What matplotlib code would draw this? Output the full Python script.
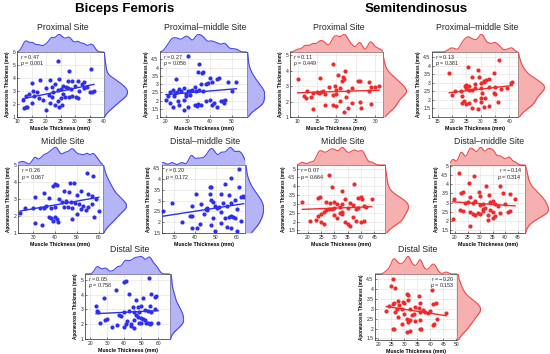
import numpy as np
import matplotlib
matplotlib.use('Agg')
import matplotlib.pyplot as plt

plt.rcParams['font.family'] = ['Liberation Sans', 'DejaVu Sans']
plt.rcParams['mathtext.fontset'] = 'custom'
plt.rcParams['mathtext.it'] = 'Liberation Sans:italic'
plt.rcParams['mathtext.rm'] = 'Liberation Sans'

# ----------------------------------------------------------------------
# Data: (muscle thickness mm, aponeurosis thickness mm)
# ----------------------------------------------------------------------
bf_prox = [(24, 5.3), (35.5, 4.7), (28, 4.55), (15, 3.65), (18, 3.85), (21.5, 3.85),
           (24.5, 3.95), (23, 3.55), (27.5, 3.75), (29, 3.8), (31, 3.75), (33, 3.7),
           (32.5, 3.55), (34, 3.3), (26, 3.35), (22, 3.3), (20, 3.2), (17, 2.9),
           (15.5, 3.0), (14, 2.75), (13, 2.65), (12, 2.3), (16, 2.6), (19, 2.3),
           (21, 2.7), (22.5, 2.95), (24, 3.05), (25, 3.15), (27, 3.3), (28.5, 3.15),
           (30, 3.35), (31.5, 3.0), (33, 3.2), (36, 2.95), (36.5, 3.0), (35, 2.9),
           (29, 2.6), (28, 2.55), (30.5, 2.55), (31, 2.45), (26.5, 2.55), (25, 2.45),
           (24, 2.25), (23, 1.95), (21.5, 2.1), (24.5, 1.75), (25.5, 1.95), (20, 1.55),
           (13, 1.75), (13.5, 1.8), (12.5, 1.7), (15, 2.1), (17.5, 2.5), (22, 2.55),
           (26, 2.75), (27.5, 3.25)]
bf_proxmid = [(30, 4.68), (35, 4.2), (34.5, 3.75), (36.5, 3.7), (37, 3.75), (24.5, 3.3),
              (40, 3.35), (43, 3.3), (44, 3.35), (41, 3.15), (36, 3.0), (38, 3.0),
              (39, 3.05), (48, 3.1), (52, 3.15), (50, 2.55), (33, 2.8), (28, 2.75),
              (26, 2.7), (23, 2.65), (22, 2.5), (21, 2.3), (24, 2.45), (25, 2.5),
              (27, 2.55), (29, 2.4), (30, 2.6), (31, 2.6), (32, 2.65), (33.5, 2.6),
              (35, 2.65), (37, 2.55), (20, 2.05), (23.5, 2.3), (25.5, 2.0), (28, 2.05),
              (22, 1.85), (23, 1.6), (26, 1.75), (30, 1.6), (33, 1.75), (34.5, 1.8),
              (36, 1.7), (38, 1.95), (40, 2.05), (41, 1.7), (43, 1.6), (45, 1.95),
              (46, 2.0), (47, 2.05), (46.5, 1.85), (28, 1.4), (34, 1.65), (42, 1.85),
              (29, 2.25), (31, 2.35)]
bf_mid = [(54.7, 4.55), (57.5, 4.35), (40, 3.9), (41, 3.8), (47, 3.95), (48.5, 3.95),
          (39, 3.75), (44, 3.5), (46.5, 3.4), (52, 3.5), (55, 3.3), (50, 3.25),
          (57, 3.15), (59, 3.0), (31, 3.1), (35, 3.35), (37, 3.05), (42, 3.0),
          (45, 2.9), (47.5, 2.85), (49, 2.75), (51, 2.7), (53, 2.6), (55, 2.55),
          (57, 2.7), (60, 2.3), (58, 1.95), (48, 2.5), (46, 2.55), (44, 2.55),
          (40, 2.55), (38, 2.5), (36, 2.6), (33, 2.5), (35, 2.45), (30, 2.5),
          (26, 2.5), (24, 2.2), (37, 1.95), (38, 1.9), (40, 1.95), (41, 1.85),
          (39, 1.7), (41.5, 1.65), (34, 1.5), (31, 1.6), (48, 1.8), (52, 2.4),
          (54, 2.35), (50, 2.1), (43, 2.8), (45, 2.85)]
bf_distmid = [(61.1, 4.45), (57.3, 4.05), (46.9, 3.65), (47.8, 3.65), (54.5, 3.75),
              (61.1, 3.65), (40.2, 3.3), (46.9, 3.3), (52.6, 3.3), (56.4, 3.25),
              (62.1, 3.15), (63.0, 3.2), (63.4, 3.15), (28.8, 2.9), (38.3, 2.75),
              (47.8, 3.05), (48.8, 2.95), (53.5, 2.9), (57.3, 2.9), (59.2, 3.05),
              (43.0, 2.85), (45.0, 2.6), (45.9, 2.65), (50.7, 2.65), (51.6, 2.7),
              (55.4, 2.75), (60.2, 2.6), (24.5, 2.5), (37.3, 2.3), (38.3, 2.3),
              (44.0, 2.4), (48.8, 2.2), (54.5, 2.2), (56.4, 2.25), (57.3, 2.3),
              (58.3, 2.25), (59.2, 2.2), (62.1, 2.05), (33.5, 2.0), (38.3, 1.75),
              (41.1, 1.75), (52.6, 1.95), (55.4, 1.8), (57.3, 1.75), (60.2, 1.6),
              (49.7, 1.6), (47.8, 1.85), (42.1, 1.9), (45.9, 2.55), (49.7, 2.75),
              (52.6, 2.45)]
bf_dist = [(54.5, 5.1), (40, 4.85), (41, 4.95), (35.5, 4.3), (43, 4.05), (56, 4.05),
           (59, 3.9), (58, 3.85), (28, 3.75), (47, 3.65), (51, 3.75), (45, 3.2),
           (48, 3.2), (50, 3.25), (55, 3.25), (23.5, 3.25), (24, 2.9), (24.5, 2.85),
           (37, 2.6), (40, 2.85), (43, 2.9), (46, 2.85), (49, 2.8), (52, 2.95),
           (54, 2.9), (56, 2.85), (58, 3.0), (47, 2.6), (48, 2.5), (50, 2.45),
           (51, 2.35), (52, 2.3), (53, 2.1), (54, 2.05), (55, 2.0), (56, 2.05),
           (50, 2.05), (49, 2.1), (60, 2.1), (44, 2.0), (46, 2.3), (41, 2.0),
           (30, 2.35), (29, 2.3), (26, 2.05), (33, 1.8), (36, 1.95), (40, 1.8),
           (44, 1.85), (46, 1.75), (42, 2.25), (38, 2.55)]

st_prox = [(10, 3.45), (19, 4.4), (22.3, 4.0), (15.7, 3.5), (20.5, 3.7), (21.8, 3.6),
           (22, 3.45), (21.5, 3.3), (25.5, 3.35), (26, 3.3), (28.5, 3.25), (18, 2.95),
           (19.5, 3.0), (21, 2.9), (24, 2.85), (29, 2.95), (30, 2.95), (31, 3.0),
           (28.5, 2.65), (15, 2.6), (15.5, 2.55), (16, 2.6), (16.5, 2.7), (14, 2.55),
           (12.5, 2.65), (13.5, 2.3), (11.5, 2.35), (12, 2.2), (17, 2.5), (19, 2.45),
           (20, 2.5), (23, 2.7), (22.5, 2.3), (20, 2.75), (26, 1.95), (26.3, 1.6),
           (29, 1.85), (14, 1.5), (17, 1.75), (19, 1.75), (20, 1.7), (22, 1.35),
           (23, 1.55), (24, 1.9), (21, 2.05)]
st_proxmid = [(19, 3.6), (36.3, 4.32), (25.7, 3.95), (29, 3.75), (34.5, 3.55), (27, 3.35),
              (29.5, 3.35), (31, 3.1), (32, 3.15), (33, 3.2), (31, 3.05), (30, 3.0),
              (28, 2.95), (25, 2.9), (26, 2.8), (28, 2.7), (30, 2.7), (33, 2.75),
              (35, 2.75), (39, 2.7), (40.5, 3.0), (41, 3.05), (37, 2.65), (34.5, 2.4),
              (35, 2.35), (30.5, 2.4), (27, 2.55), (26, 2.6), (23, 2.5), (21, 2.5),
              (20, 2.3), (24.5, 2.8), (25, 2.7), (23.5, 2.25), (24, 1.95), (25, 1.75),
              (28, 2.0), (30, 2.1), (31.5, 2.1), (26, 1.8), (27, 1.5), (29, 1.45),
              (31, 1.6), (33, 1.65), (36, 1.85), (23.5, 1.8), (30, 1.9)]
st_mid = [(28, 4.65), (29, 3.95), (37.5, 4.15), (24.5, 3.4), (24, 3.35), (33, 3.7),
          (34, 3.3), (39, 3.35), (40, 3.4), (40.5, 3.25), (44, 3.3), (18, 3.1),
          (27, 3.1), (28.5, 3.05), (30, 3.1), (31, 3.0), (33, 3.0), (36, 3.05),
          (37, 2.95), (41, 2.9), (42, 2.85), (39, 2.75), (38, 2.7), (35, 2.75),
          (32, 2.8), (30, 2.75), (29, 2.7), (28, 2.7), (27, 2.65), (26, 2.55),
          (25, 2.45), (24, 2.3), (23, 2.1), (25, 2.0), (21, 2.05), (26, 1.85),
          (30, 2.35), (31, 2.2), (32, 2.5), (33, 2.4), (34, 2.0), (35, 1.85),
          (36, 1.75), (37, 2.25), (38, 2.05), (40, 2.0), (41, 2.05), (33, 2.55)]
st_distmid = [(21.7, 4.6), (27.6, 4.45), (25.6, 4.05), (23, 3.6), (22.5, 3.55), (29.5, 3.6),
              (32.5, 3.9), (38, 3.9), (26, 3.3), (30, 3.35), (33.5, 3.4), (39, 3.5),
              (42, 3.45), (44, 3.2), (19.5, 3.2), (24, 3.0), (25, 3.05), (27, 3.0),
              (28, 3.1), (31, 2.95), (34, 3.05), (35, 3.1), (36, 2.95), (37, 2.8),
              (40, 2.95), (22, 2.6), (23, 2.55), (26, 2.5), (27, 2.4), (28, 2.35),
              (29, 2.45), (30, 2.4), (31, 2.55), (32, 2.7), (33, 2.35), (34, 2.6),
              (35, 2.5), (36, 2.3), (38, 2.45), (41, 2.5), (42, 2.55), (35, 2.15),
              (33, 2.05), (19, 2.1), (26, 1.75), (30, 2.85), (31, 2.65)]
st_dist = [(25.5, 4.5), (25, 4.15), (26.5, 4.05), (40.5, 3.95), (31, 3.75), (31.5, 3.7),
           (35.5, 3.65), (27.7, 3.4), (29.5, 3.35), (30, 3.3), (31.5, 3.45), (36, 3.3),
           (41, 3.25), (42, 3.3), (25.5, 3.25), (26, 3.3), (24, 3.15), (28, 3.2),
           (29, 3.0), (27, 3.0), (32, 3.0), (34, 3.1), (35.5, 3.05), (37, 2.95),
           (38, 2.85), (39, 2.8), (40, 2.9), (46, 2.8), (23, 2.9), (26.5, 2.85),
           (30, 2.75), (33, 2.7), (33.5, 2.75), (36, 2.85), (27.5, 2.6), (31, 2.5),
           (32, 2.45), (34, 2.4), (36, 2.45), (42.5, 2.5), (25.5, 2.0), (26, 2.0),
           (29, 2.25), (32, 1.85), (31, 1.8), (36, 2.0), (36.5, 2.0), (41, 2.2),
           (41.5, 2.25), (31.5, 2.35)]

site_names = ['Proximal Site', 'Proximal\u2013middle Site', 'Middle Site',
              'Distal\u2013middle Site', 'Distal Site']
bf_r = ['0.47', '0.27', '0.26', '0.20', '0.05']
bf_p = ['0.001', '0.056', '0.067', '0.172', '0.758']
st_r = ['0.11', '0.13', '0.07', '\u22120.14', '\u22120.20']
st_p = ['0.449', '0.381', '0.664', '0.314', '0.153']

# ----------------------------------------------------------------------
# Layout (pixel boxes: left, top, right, bottom) and axis settings
# ----------------------------------------------------------------------
W, H = 550, 354
fig = plt.figure(figsize=(W / 100, H / 100), dpi=100)


def rect(l, t, r, b):
    return [l / W, 1 - b / H, (r - l) / W, (b - t) / H]


def kde(v, grid, bw):
    d = (grid[:, None] - v[None, :]) / bw
    return np.exp(-0.5 * d ** 2).sum(1) / (len(v) * bw * np.sqrt(2 * np.pi))


def panel(pts, title, r_txt, p_txt, box, xlim, xticks, ylim, yticks, col, fill, edge,
          title_y, side_w=24, stat_right=False):
    l, t, r, b = box
    x = np.array([q[0] for q in pts], float)
    y = np.array([q[1] for q in pts], float)

    ax = fig.add_axes(rect(l, t, r, b))
    ax.scatter(x, y, s=9, color=col, lw=0, zorder=3, clip_on=False)
    k = np.polyfit(x, y, 1)
    xx = np.array([x.min(), x.max()])
    ax.plot(xx, np.polyval(k, xx), color=col, lw=1, zorder=4)
    ax.set_xlim(xlim)
    ax.set_ylim(ylim)
    ax.set_xticks(xticks)
    ax.set_yticks(yticks)
    ax.set_xticklabels([f'{v:g}' for v in xticks])
    ax.set_yticklabels([f'{v:g}' for v in yticks])
    ax.grid(True, color='#e0e0e0', lw=0.4)
    ax.set_axisbelow(True)
    ax.tick_params(direction='in', length=1.5, width=0.4, labelsize=3.6, pad=1.2,
                   colors='#262626')
    for s in ax.spines.values():
        s.set_linewidth(0.5)
        s.set_color('#262626')
    ax.set_xlabel('Muscle Thickness (mm)', fontsize=3.8, fontweight='bold', labelpad=1.5)
    ax.set_ylabel('Aponeurosis Thickness (mm)', fontsize=3.3, fontweight='bold',
                  labelpad=2.0)

    hpx = b - t
    wpx = r - l
    if stat_right:
        xt, ha = 1 - 3 / wpx, 'right'
    else:
        xt, ha = 3 / wpx, 'left'
    ax.text(xt, 1 - 5 / hpx, f'$r$ = {r_txt}', transform=ax.transAxes, fontsize=3.9,
            ha=ha, va='center', color='#262626')
    ax.text(xt, 1 - 12 / hpx, f'$p$ = {p_txt}', transform=ax.transAxes, fontsize=3.9,
            ha=ha, va='center', color='#262626')

    # top marginal density
    top = fig.add_axes(rect(l, t - 18, r, t))
    gx = np.linspace(xlim[0], xlim[1], 400)
    dx = kde(x, gx, 0.028 * (xlim[1] - xlim[0]))
    top.fill_between(gx, 0, dx, color=fill, lw=0)
    top.plot(gx, dx, color=edge, lw=0.8)
    top.set_xlim(xlim)
    top.set_ylim(0, dx.max() * 1.02)
    top.axis('off')

    # right marginal density
    side = fig.add_axes(rect(r, t, r + side_w, b))
    gy = np.linspace(ylim[0], ylim[1], 400)
    dy = kde(y, gy, 1.06 * y.std() * len(y) ** -0.2)
    side.fill_betweenx(gy, 0, dy, color=fill, lw=0)
    side.plot(dy, gy, color=edge, lw=0.8)
    side.set_ylim(ylim)
    side.set_xlim(0, dy.max() * 1.02)
    side.axis('off')

    fig.text((l + r) / 2 / W + 2 / W, 1 - title_y / H, title, fontsize=6.3,
             ha='center', va='center', color='#262626')


blue, blue_fill, blue_edge = '#2e2ef0', '#b4b4f6', '#4646f0'
red, red_fill, red_edge = '#f02a2a', '#f7b0b0', '#f04848'

# Biceps femoris
panel(bf_prox, site_names[0], bf_r[0], bf_p[0], (17, 52, 104, 117),
      (10, 40), np.arange(10, 41, 5), (1, 6), np.arange(1, 7, 1),
      blue, blue_fill, blue_edge, 27)
panel(bf_proxmid, site_names[1], bf_r[1], bf_p[1], (160, 52, 247, 117),
      (17.3, 56.8), np.arange(20, 51, 10), (1, 4.95), np.arange(1, 4.6, 0.5),
      blue, blue_fill, blue_edge, 27, side_w=18)
panel(bf_mid, site_names[2], bf_r[2], bf_p[2], (18, 165, 103, 233),
      (23, 62), np.arange(30, 61, 10), (1, 5), np.arange(1, 6, 1),
      blue, blue_fill, blue_edge, 142)
panel(bf_distmid, site_names[3], bf_r[3], bf_p[3], (162, 165, 245, 233),
      (24, 64), np.arange(30, 61, 10), (1.5, 4.65), np.arange(1.5, 4.6, 0.5),
      blue, blue_fill, blue_edge, 142, side_w=19)
panel(bf_dist, site_names[4], bf_r[4], bf_p[4], (85, 274, 170, 339),
      (17, 67), np.arange(20, 61, 10), (1, 5.4), np.arange(1, 6, 1),
      blue, blue_fill, blue_edge, 250, side_w=14)

# Semitendinosus
panel(st_prox, site_names[0], st_r[0], st_p[0], (290, 52, 383, 117),
      (8, 32), np.arange(10, 31, 5), (1, 5.2), np.arange(1, 6, 1),
      red, red_fill, red_edge, 27)
panel(st_proxmid, site_names[1], st_r[1], st_p[1], (432, 52, 518, 117),
      (13, 43), np.arange(15, 41, 5), (1, 4.8), np.arange(1, 4.6, 0.5),
      red, red_fill, red_edge, 27, side_w=27)
panel(st_mid, site_names[2], st_r[2], st_p[2], (297, 165, 385, 233),
      (16, 49), np.arange(20, 46, 5), (1.35, 5.2), np.arange(1.5, 5.1, 0.5),
      red, red_fill, red_edge, 142)
panel(st_distmid, site_names[3], st_r[3], st_p[3], (450, 165, 525, 233),
      (18, 48), np.arange(20, 46, 5), (1.35, 5.05), np.arange(1.5, 5.1, 0.5),
      red, red_fill, red_edge, 142, stat_right=True)
panel(st_dist, site_names[4], st_r[4], st_p[4], (375, 274, 457, 340),
      (18.7, 50.2), np.arange(20, 51, 5), (1.42, 4.75), np.arange(1.5, 4.6, 0.5),
      red, red_fill, red_edge, 250, stat_right=True)

fig.text(125 / W, 1 - 9 / H, 'Biceps Femoris', fontsize=9.6, fontweight='bold',
         ha='center', va='center')
fig.text(416 / W, 1 - 9 / H, 'Semitendinosus', fontsize=9.6, fontweight='bold',
         ha='center', va='center')

fig.savefig('out.png', dpi=100, facecolor='white')
